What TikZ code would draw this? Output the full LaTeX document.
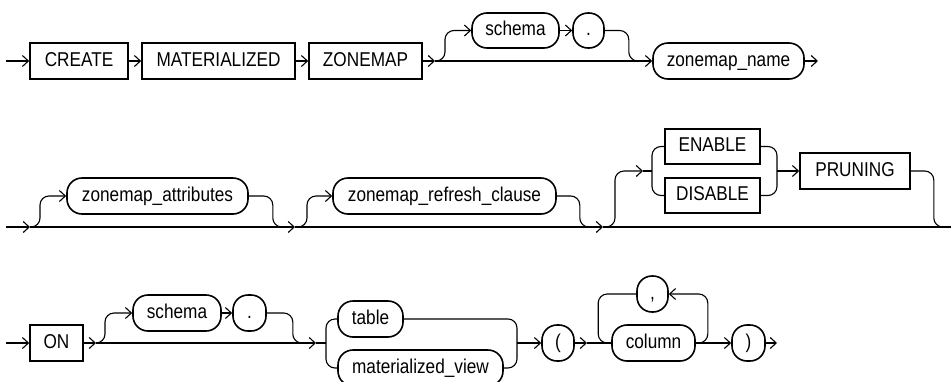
\documentclass[tikz,border=0pt]{standalone}
\usepackage{fontspec}
\setmainfont{Liberation Sans}[FakeStretch=0.86]
\usetikzlibrary{arrows.meta}
\begin{document}
\begin{tikzpicture}[x=1pt,y=-1pt,
  every node/.style={font=\fontsize{20}{24}\selectfont, inner sep=0pt, text height=15pt, text depth=5pt, minimum height=36pt, line width=1.6pt},
  kw/.style={draw, rectangle},
  nt/.style={draw, rectangle, rounded corners=15pt},
  ln/.style={line width=1.1pt, rounded corners=9pt},
  ar/.style={ln, -{Straight Barb[length=6pt,width=11pt]}}
]
\useasboundingbox (0,0) rectangle (951,381);
% ---------- row 1
\coordinate (s1) at (6,61);
\node[kw, minimum width=98pt] (create) at (79,61) {CREATE};
\node[kw, minimum width=153pt] (mat) at (218.5,61) {MATERIALIZED};
\node[kw, minimum width=113pt] (zm) at (365.5,61) {ZONEMAP};
\node[nt, minimum width=87pt, minimum height=35pt] (sch1) at (515.5,30.5) {schema};
\node[nt, minimum width=31pt, minimum height=35pt] (dot1) at (588.5,30.5) {.};
\node[nt, minimum width=151pt] (zn) at (728.5,61) {zonemap\_name};
\coordinate (j1) at (435,61);
\coordinate (m1) at (645,61);
\coordinate (e1) at (818,61);
\draw[ar] (s1) -- (create.west);
\draw[ar] (create.east) -- (mat.west);
\draw[ar] (mat.east) -- (zm.west);
\draw[ar] (zm.east) -- (j1);
\draw[ar] (j1) -- (zn.west);
\draw[ar] (j1) -- ++(10,0) |- (sch1.west);
\draw[ar] (sch1.east) -- (dot1.west);
\draw[ln] (dot1.east) -- ++(24,0) |- (m1);
\draw[ar] (zn.east) -- (e1);
% ---------- row 2
\coordinate (s2) at (6,227);
\coordinate (j2a) at (30,227);
\coordinate (j2b) at (295,227);
\coordinate (j2c) at (603,227);
\coordinate (m2a) at (285,227);
\coordinate (m2b) at (592,227);
\coordinate (e2) at (951,227);
\node[nt, minimum width=181pt] (za) at (157.5,196) {zonemap\_attributes};
\node[nt, minimum width=223pt] (zr) at (444.5,196) {zonemap\_refresh\_clause};
\node[kw, minimum width=95pt, minimum height=35pt] (en) at (712.5,146.5) {ENABLE};
\node[kw, minimum width=95pt, minimum height=35pt] (dis) at (712.5,195.5) {DISABLE};
\node[kw, minimum width=110pt] (pr) at (855,171) {PRUNING};
\coordinate (g2) at (643,171);
\coordinate (b2l) at (652,171);
\coordinate (b2r) at (777,171);
\draw[ar] (s2) -- (j2a);
\draw[ar] (j2a) -- (j2b);
\draw[ar] (j2b) -- (j2c);
\draw[ln] (j2c) -- (e2);
\draw[ar] (j2a) -- ++(10,0) |- (za.west);
\draw[ln] (za.east) -- ++(24,0) |- (m2a);
\draw[ar] (j2b) -- ++(12,0) |- (zr.west);
\draw[ln] (zr.east) -- ++(23,0) |- (m2b);
\draw[ar] (j2c) -- ++(12,0) |- (g2);
\draw[ln] (g2) -- (b2l);
\draw[ln] (en.west) -| (b2l) |- (dis.west);
\draw[ln] (en.east) -| (b2r) |- (dis.east);
\draw[ar] (b2r) -- (pr.west);
\draw[ln] (pr.east) -- ++(23,0) |- (e2);
% ---------- row 3
\coordinate (s3) at (6,343);
\node[kw, minimum width=53pt] (on) at (56.5,343) {ON};
\coordinate (j3a) at (96,343);
\node[nt, minimum width=88pt] (sch2) at (177,313) {schema};
\node[nt, minimum width=33pt] (dot2) at (249.5,313) {.};
\coordinate (m3) at (305,343);
\coordinate (j3b) at (316,343);
\coordinate (b3l) at (326,343);
\node[nt, minimum width=65pt] (tab) at (370.5,319) {table};
\node[nt, minimum width=165pt] (mv) at (420.5,368) {materialized\_view};
\coordinate (b3r) at (517,343);
\node[nt, minimum width=32pt] (lp) at (558,343) {(};
\coordinate (j3c) at (587,343);
\node[nt, minimum width=83pt] (col) at (653.5,343) {column};
\node[nt, minimum width=31pt] (cm) at (652.5,294) {,};
\node[nt, minimum width=33pt] (rp) at (748.5,343) {)};
\coordinate (e3) at (777,343);
\draw[ar] (s3) -- (on.west);
\draw[ar] (on.east) -- (j3a);
\draw[ar] (j3a) -- (j3b);
\draw[ln] (j3b) -- (b3l);
\draw[ar] (j3a) -- ++(9,0) |- (sch2.west);
\draw[ar] (sch2.east) -- (dot2.west);
\draw[ln] (dot2.east) -- ++(26,0) |- (m3);
\draw[ln] (tab.west) -| (b3l) |- (mv.west);
\draw[ln] (tab.east) -| (b3r) |- (mv.east);
\draw[ar] (b3r) -- (lp.west);
\draw[ar] (lp.east) -- (j3c);
\draw[ln] (j3c) -- (col.west);
\draw[ar] (col.east) -- (rp.west);
\draw[ar] (rp.east) -- (e3);
\draw[ar] (col.east) -- ++(12,0) |- (cm.east);
\draw[ln] (cm.west) -- ++(-38,0) |- (col.west);
\end{tikzpicture}
\end{document}
